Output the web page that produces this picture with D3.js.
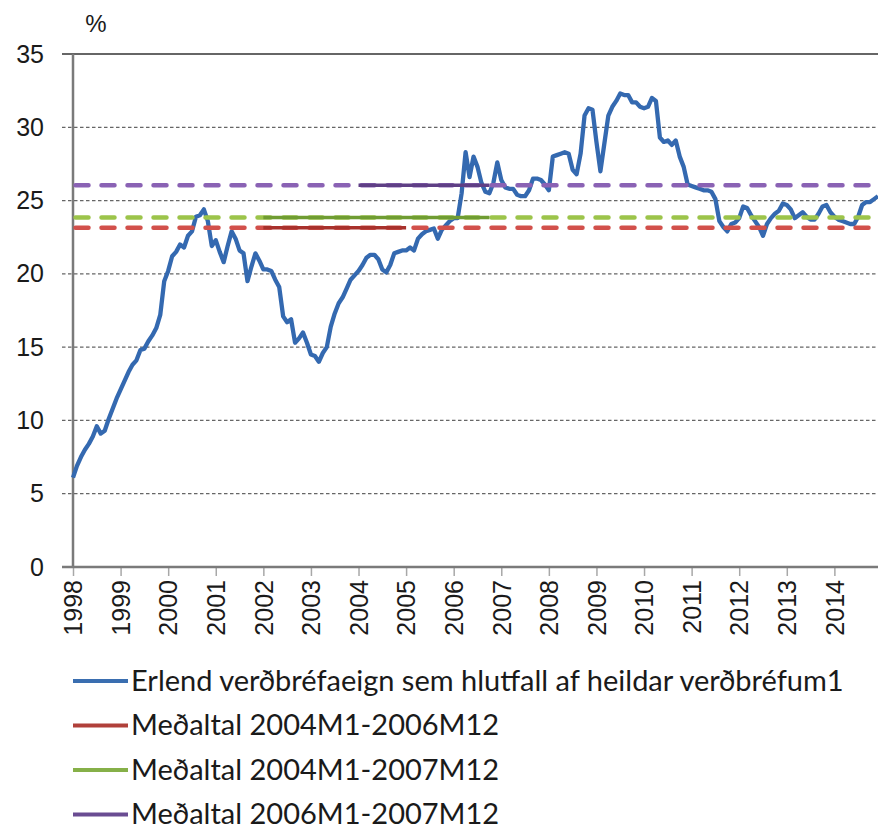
<!DOCTYPE html>
<html>
<head>
<meta charset="utf-8">
<script src="https://cdn.jsdelivr.net/npm/d3@7"></script>
<style>
  body { margin: 0; background: #fff; }
  svg { display: block; }
</style>
</head>
<body>
<svg id="chart" width="878" height="829"></svg>
<script>
// tick labels
var yearLabels = ["1998","1999","2000","2001","2002","2003","2004","2005","2006",
                  "2007","2008","2009","2010","2011","2012","2013","2014"];
var yTicks = [0, 5, 10, 15, 20, 25, 30, 35];

// monthly share, 1998M1 - 2014M12
var foreignShare = [
  6.1, 6.9, 7.5, 8.0, 8.4, 8.9, 9.6, 9.1, 9.3, 10.1, 10.8, 11.5,
  12.1, 12.7, 13.3, 13.8, 14.1, 14.8, 14.9, 15.4, 15.8, 16.3, 17.2, 19.5,
  20.2, 21.2, 21.5, 22.0, 21.8, 22.6, 22.9, 23.9, 24.0, 24.4, 23.6, 21.9,
  22.3, 21.5, 20.8, 21.9, 22.9, 22.4, 21.6, 21.4, 19.5, 20.5, 21.4, 20.9,
  20.3, 20.3, 20.2, 19.6, 19.1, 17.1, 16.7, 16.9, 15.3, 15.6, 16.0, 15.3,
  14.5, 14.4, 14.0, 14.6, 15.0, 16.4, 17.3, 18.0, 18.4, 19.0, 19.6, 19.9,
  20.2, 20.6, 21.1, 21.3, 21.3, 21.0, 20.3, 20.1, 20.6, 21.4, 21.5, 21.6,
  21.6, 21.8, 21.6, 22.4, 22.7, 22.9, 23.0, 23.1, 22.4, 23.0, 23.3, 23.6,
  23.8, 23.8, 25.5, 28.3, 26.6, 28.0, 27.3, 26.2, 25.6, 25.5, 26.2, 27.6,
  26.4, 25.9, 25.8, 25.8, 25.4, 25.3, 25.3, 25.7, 26.5, 26.5, 26.4, 26.1,
  25.7, 28.0, 28.1, 28.2, 28.3, 28.2, 27.1, 26.8, 28.2, 30.8, 31.3, 31.2,
  29.0, 27.0, 28.9, 30.8, 31.4, 31.8, 32.3, 32.2, 32.2, 31.7, 31.7, 31.4,
  31.3, 31.4, 32.0, 31.8, 29.3, 29.0, 29.1, 28.8, 29.1, 28.0, 27.3, 26.1,
  26.0, 25.9, 25.8, 25.7, 25.7, 25.6, 25.1, 23.6, 23.2, 22.9, 23.4, 23.5,
  23.8, 24.6, 24.5, 24.0, 23.6, 23.2, 22.6, 23.4, 23.8, 24.1, 24.3, 24.8,
  24.7, 24.4, 23.8, 24.0, 24.2, 23.9, 23.7, 23.7, 24.1, 24.6, 24.7, 24.2,
  23.9, 23.7, 23.6, 23.5, 23.4, 23.4, 23.9, 24.7, 24.9, 24.9, 25.1, 25.3
];

// averages (red, green, purple) and the month range each is drawn solid over
var avgNames = ["Meðaltal 2004M1-2006M12", "Meðaltal 2004M1-2007M12", "Meðaltal 2006M1-2007M12"];
var avgValues = [23.15, 23.85, 26.05];
var avgSolidFrom = [48, 48, 72];
var avgSolidTo = [84, 105, 105];

var seriesName = "Erlend verðbréfaeign sem hlutfall af heildar verðbréfum1";

var svg = d3.select("#chart");
var plotLeft = 73, plotRight = 878, plotTop = 54, plotBottom = 567;

var x = d3.scaleLinear().domain([0, foreignShare.length - 1]).range([plotLeft, plotRight]);
var y = d3.scaleLinear().domain([0, 35]).range([plotBottom, plotTop]);

var dashColors = ["#d2504b", "#9cc44a", "#8a62b4"];
var solidColors = ["#a8312c", "#6f9c32", "#5f3f85"];
var legendColors = ["#3a6eb0", "#b0403a", "#86b048", "#6a4c92"];

// grid lines
svg.append("g").selectAll("line").data(yTicks.filter(function(d){ return d > 0 && d < 35; }))
  .enter().append("line")
  .attr("x1", plotLeft - 11).attr("x2", plotRight)
  .attr("y1", function(d){ return y(d); }).attr("y2", function(d){ return y(d); })
  .attr("stroke", "#666").attr("stroke-width", 1.3)
  .attr("stroke-dasharray", "3.5 2.5");

// top line at 35
svg.append("line")
  .attr("x1", plotLeft - 11).attr("x2", plotRight)
  .attr("y1", y(35)).attr("y2", y(35))
  .attr("stroke", "#333").attr("stroke-width", 1.5);

// y axis labels
var yAxis = svg.append("g")
  .attr("transform", "translate(" + plotLeft + ",0)")
  .call(d3.axisLeft(y).tickValues(yTicks).tickSize(0).tickPadding(29));
yAxis.select(".domain").remove();
yAxis.selectAll("text")
  .attr("font-family", "Liberation Sans, Arial, sans-serif")
  .attr("font-size", 25).attr("fill", "#1a1a1a");

// x axis ticks and labels
var xAxis = svg.append("g")
  .attr("transform", "translate(0," + plotBottom + ")")
  .call(d3.axisBottom(x).tickValues(d3.range(0, foreignShare.length, 12))
    .tickSize(9).tickFormat(function(d){ return yearLabels[d / 12]; }));
xAxis.select(".domain").remove();
xAxis.selectAll("line").attr("stroke", "#a8a8a8").attr("stroke-width", 1.5);
xAxis.selectAll("text")
  .attr("font-family", "Liberation Sans, Arial, sans-serif")
  .attr("font-size", 25).attr("fill", "#1a1a1a")
  .attr("text-anchor", "end")
  .attr("transform", "rotate(-90)")
  .attr("x", -13).attr("y", 0).attr("dy", "0.35em");

// axis lines
svg.append("line").attr("x1", plotLeft).attr("x2", plotLeft).attr("y1", plotTop).attr("y2", plotBottom)
  .attr("stroke", "#7a7a7a").attr("stroke-width", 2.5);
svg.append("line").attr("x1", plotLeft - 11).attr("x2", plotRight).attr("y1", plotBottom).attr("y2", plotBottom)
  .attr("stroke", "#7a7a7a").attr("stroke-width", 2.5);

// the share series
var line = d3.line().x(function(d, i){ return x(i); }).y(function(d){ return y(d); });
svg.append("path").datum(foreignShare)
  .attr("d", line).attr("fill", "none")
  .attr("stroke", "#3469b0").attr("stroke-width", 4.3)
  .attr("stroke-linejoin", "round");

// averages: dashed over the whole span, solid over their own range
svg.append("g").selectAll("line").data(avgValues).enter().append("line")
  .attr("x1", plotLeft).attr("x2", plotRight)
  .attr("y1", function(d){ return y(d); }).attr("y2", function(d){ return y(d); })
  .attr("stroke", function(d, i){ return dashColors[i]; })
  .attr("stroke-width", 4.5).attr("stroke-linecap", "round")
  .attr("stroke-dasharray", "13 13").attr("stroke-dashoffset", -2.5);

svg.append("g").selectAll("line").data(avgValues).enter().append("line")
  .attr("x1", function(d, i){ return x(avgSolidFrom[i]); })
  .attr("x2", function(d, i){ return x(avgSolidTo[i]); })
  .attr("y1", function(d){ return y(d); }).attr("y2", function(d){ return y(d); })
  .attr("stroke", function(d, i){ return solidColors[i]; })
  .attr("stroke-width", 3.5);

// unit label
svg.append("text").attr("x", 96).attr("y", 32).attr("text-anchor", "middle")
  .attr("font-family", "Liberation Sans, Arial, sans-serif").attr("font-size", 24)
  .attr("fill", "#1a1a1a").text("%");

// legend
var legendNames = [seriesName].concat(avgNames);
var legend = svg.append("g").selectAll("g").data(legendNames).enter().append("g")
  .attr("transform", function(d, i){ return "translate(73," + (681 + i * 44.5) + ")"; });
legend.append("line").attr("x1", 0).attr("x2", 55).attr("y1", 0).attr("y2", 0)
  .attr("stroke", function(d, i){ return legendColors[i]; }).attr("stroke-width", 4);
legend.append("text").attr("x", 58).attr("y", 0).attr("dy", "0.33em")
  .attr("font-family", "Lato, sans-serif").attr("font-size", 29)
  .attr("fill", "#1a1a1a").text(function(d){ return d; });
</script>
</body>
</html>
